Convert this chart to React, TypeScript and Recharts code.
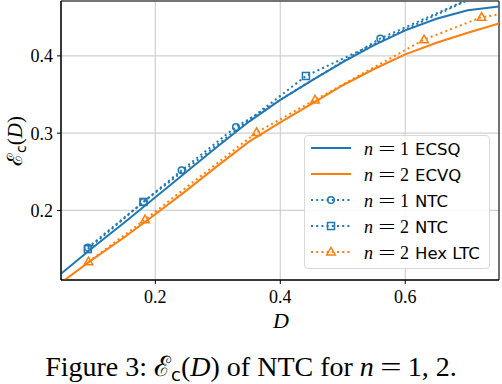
import React from 'react';
import { LineChart, Line, XAxis, YAxis, CartesianGrid, Legend, ReferenceArea } from 'recharts';

const BLUE = '#1f77b4';
const ORANGE = '#ff7f0e';

// n = 1 ECSQ (solid blue)
const ecsqD = [0.049, 0.1, 0.15, 0.2, 0.25, 0.3, 0.35, 0.4, 0.45, 0.5, 0.55, 0.6, 0.65, 0.7, 0.75];
const ecsqE = [0.118, 0.152, 0.184, 0.217, 0.25, 0.283, 0.315, 0.343, 0.368, 0.392, 0.414, 0.433, 0.448, 0.459, 0.464];
// n = 2 ECVQ (solid orange)
const ecvqD = [0.049, 0.1, 0.15, 0.2, 0.25, 0.3, 0.35, 0.4, 0.45, 0.5, 0.55, 0.6, 0.65, 0.7, 0.75];
const ecvqE = [0.1065, 0.137, 0.165, 0.195, 0.226, 0.258, 0.289, 0.314, 0.338, 0.362, 0.383, 0.402, 0.417, 0.43, 0.442];
// n = 1 NTC (dotted blue, circles)
const ntc1D = [0.092, 0.181, 0.242, 0.329, 0.56, 0.8];
const ntc1E = [0.152, 0.211, 0.252, 0.308, 0.4225, 0.509];
// n = 2 NTC (dotted blue, squares)
const ntc2D = [0.092, 0.181, 0.441, 0.8];
const ntc2E = [0.15, 0.211, 0.374, 0.51];
// n = 2 Hex LTC (dotted orange, triangles)
const hexD = [0.093, 0.1835, 0.362, 0.4555, 0.63, 0.722, 0.8];
const hexE = [0.1335, 0.188, 0.301, 0.343, 0.421, 0.45, 0.46];

const xTicks = [0.2, 0.4, 0.6];
const yTicks = [0.2, 0.3, 0.4];
const xDomain: [number, number] = [0.049, 0.75];
const yDomain: [number, number] = [0.11, 0.471];

const legendN = ['1', '2', '1', '2', '2'];
const legendNames = ['ECSQ', 'ECVQ', 'NTC', 'NTC', 'Hex LTC'];
const legendColors = [BLUE, ORANGE, BLUE, BLUE, ORANGE];
const legendDotted = [false, false, true, true, true];
const legendMarkers = ['', '', 'circle', 'square', 'triangle'];

const zip = (xs: number[], ys: number[]) => xs.map((D, i) => ({ D, E: ys[i] }));

const dataEcsq = zip(ecsqD, ecsqE);
const dataEcvq = zip(ecvqD, ecvqE);
const dataNtc1 = zip(ntc1D, ntc1E);
const dataNtc2 = zip(ntc2D, ntc2E);
const dataHex = zip(hexD, hexE);

const PLOT = { left: 61, right: 499, top: 1, bottom: 280 };

const Marker = ({ kind, x, y, color }: { kind: string; x: number; y: number; color: string }) => {
  if (kind === 'circle')
    return <circle cx={x} cy={y} r={3.3} fill="none" stroke={color} strokeWidth={1.5} />;
  if (kind === 'square')
    return <rect x={x - 3.5} y={y - 3.5} width={7} height={7} fill="none" stroke={color} strokeWidth={1.5} />;
  if (kind === 'triangle')
    return (
      <polygon
        points={`${x},${y - 4.6} ${x - 4.3},${y + 3} ${x + 4.3},${y + 3}`}
        fill="none"
        stroke={color}
        strokeWidth={1.5}
      />
    );
  return null;
};

const makeDot = (kind: string, color: string) => (props: any) => {
  const { cx, cy, index } = props;
  const k = `${kind}-${index}`;
  if (
    cx == null ||
    cy == null ||
    cx < PLOT.left - 1 ||
    cx > PLOT.right + 1 ||
    cy < PLOT.top - 1 ||
    cy > PLOT.bottom + 1
  )
    return <g key={k} />;
  return (
    <g key={k}>
      <Marker kind={kind} x={cx} y={cy} color={color} />
    </g>
  );
};

const DOT_DASH = '2 3.2';

const WideEq = ({ width, scale }: { width: number; scale: number }) => (
  <span
    style={{
      display: 'inline-block',
      width,
      textAlign: 'center',
      transform: `scaleX(${scale})`,
    }}
  >
    =
  </span>
);

const LegendBox = () => (
  <div
    style={{
      width: 186,
      height: 134,
      boxSizing: 'border-box',
      border: '1px solid #d9d9d9',
      borderRadius: 4,
      background: 'rgba(255,255,255,0.85)',
      position: 'relative',
    }}
  >
    {legendNames.map((name, i) => (
      <div
        key={i}
        style={{
          position: 'absolute',
          left: 6,
          top: i * 26.1 - 1,
          height: 26,
          width: 178,
        }}
      >
        <svg width={40} height={26} style={{ position: 'absolute', left: 0, top: 0, display: 'block' }}>
          <line
            x1={0}
            y1={13}
            x2={40}
            y2={13}
            stroke={legendColors[i]}
            strokeWidth={2}
            strokeDasharray={legendDotted[i] ? DOT_DASH : undefined}
          />
          {legendMarkers[i] ? <Marker kind={legendMarkers[i]} x={20} y={13} color={legendColors[i]} /> : null}
        </svg>
        <div
          style={{
            position: 'absolute',
            left: 53,
            top: 1,
            height: 26,
            lineHeight: '26px',
            whiteSpace: 'nowrap',
            color: '#000',
            fontFamily: 'Liberation Serif',
            fontSize: 18,
          }}
        >
          <span style={{ display: 'inline-block', width: 12, fontStyle: 'italic' }}>n</span>
          <WideEq width={22} scale={1.7} />
          <span style={{ display: 'inline-block', width: 17, paddingLeft: 2, boxSizing: 'border-box' }}>
            {legendN[i]}
          </span>
          <span style={{ fontFamily: 'DejaVu Sans', fontSize: 16.5 }}>{name}</span>
        </div>
      </div>
    ))}
  </div>
);

export default function App() {
  return (
    <div style={{ position: 'absolute', left: 0, top: 0, width: 502, height: 384, background: '#fff' }}>
      <LineChart
        width={502}
        height={384}
        margin={{ top: PLOT.top, right: 502 - PLOT.right, bottom: 384 - PLOT.bottom - 30, left: PLOT.left - 50 }}
      >
        <CartesianGrid stroke="#d0d0d0" strokeWidth={1.2} />
        <XAxis
          type="number"
          dataKey="D"
          domain={xDomain}
          ticks={xTicks}
          allowDataOverflow
          height={30}
          tickSize={4}
          tickMargin={6}
          stroke="#000"
          tickLine={{ stroke: '#000' }}
          tick={{ fontFamily: 'Liberation Serif', fontSize: 18, fill: '#000' }}
          tickFormatter={(v: number) => v.toFixed(1)}
        />
        <YAxis
          type="number"
          dataKey="E"
          domain={yDomain}
          ticks={yTicks}
          allowDataOverflow
          width={50}
          tickSize={4}
          tickMargin={4}
          stroke="#000"
          tickLine={{ stroke: '#000' }}
          tick={{ fontFamily: 'Liberation Serif', fontSize: 18, fill: '#000' }}
          tickFormatter={(v: number) => v.toFixed(1)}
        />
        <ReferenceArea
          x1={xDomain[0]}
          x2={xDomain[1]}
          y1={yDomain[0]}
          y2={yDomain[1]}
          fill="none"
          stroke="#000"
          strokeWidth={1}
          ifOverflow="visible"
        />
        <Line data={dataEcsq} dataKey="E" stroke={BLUE} strokeWidth={2} dot={false} isAnimationActive={false} type="linear" />
        <Line data={dataEcvq} dataKey="E" stroke={ORANGE} strokeWidth={2} dot={false} isAnimationActive={false} type="linear" />
        <Line
          data={dataNtc1}
          dataKey="E"
          stroke={BLUE}
          strokeWidth={2}
          strokeDasharray={DOT_DASH}
          dot={makeDot('circle', BLUE)}
          isAnimationActive={false}
          type="linear"
        />
        <Line
          data={dataNtc2}
          dataKey="E"
          stroke={BLUE}
          strokeWidth={2}
          strokeDasharray={DOT_DASH}
          dot={makeDot('square', BLUE)}
          isAnimationActive={false}
          type="linear"
        />
        <Line
          data={dataHex}
          dataKey="E"
          stroke={ORANGE}
          strokeWidth={2}
          strokeDasharray={DOT_DASH}
          dot={makeDot('triangle', ORANGE)}
          isAnimationActive={false}
          type="linear"
        />
        <Legend
          layout="vertical"
          align="center"
          verticalAlign="middle"
          content={() => <LegendBox />}
          wrapperStyle={{ left: 304, top: 135, right: 'auto', bottom: 'auto', width: 186, height: 134 }}
        />
      </LineChart>
      <svg
        width={502}
        height={384}
        style={{ position: 'absolute', left: 0, top: 0, pointerEvents: 'none' }}
      >
        <text
          transform="translate(22,141) rotate(-90)"
          textAnchor="middle"
          fontFamily="Liberation Serif"
          fontSize={21}
          fill="#000"
        >
          <tspan fontFamily="DejaVu Serif">ℰ</tspan>
          <tspan fontFamily="DejaVu Sans" fontSize={14} dy={4}>c</tspan>
          <tspan dy={-4}>(</tspan>
          <tspan fontStyle="italic">D</tspan>
          <tspan>)</tspan>
        </text>
        <text x={281} y={328} textAnchor="middle" fontFamily="Liberation Serif" fontStyle="italic" fontSize={22} fill="#000">
          D
        </text>
      </svg>
      <div
        style={{
          position: 'absolute',
          left: 0,
          top: 351,
          width: 502,
          textAlign: 'center',
          fontFamily: 'Liberation Serif',
          fontSize: 28,
          lineHeight: '31px',
          whiteSpace: 'nowrap',
          color: '#000',
        }}
      >
        Figure 3:{' '}
        <span style={{ fontFamily: 'DejaVu Serif' }}>ℰ</span>
        <span style={{ fontFamily: 'DejaVu Sans', fontSize: 18, position: 'relative', top: 5 }}>c</span>(
        <span style={{ fontStyle: 'italic' }}>D</span>) of NTC for{' '}
        <span style={{ fontStyle: 'italic', marginRight: 2 }}>n</span>
        <WideEq width={30} scale={1.35} />
        <span style={{ marginLeft: 2 }}>1, 2.</span>
      </div>
    </div>
  );
}
